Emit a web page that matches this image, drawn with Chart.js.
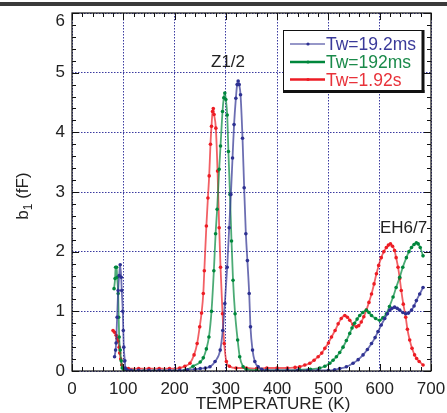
<!DOCTYPE html>
<html>
<head>
<meta charset="utf-8">
<script src="https://cdn.jsdelivr.net/npm/chart.js@4.4.0/dist/chart.umd.min.js"></script>
<style>
  body { margin: 0; background: #fff; }
  canvas { display: block; }
</style>
</head>
<body>
<canvas id="c" width="447" height="413"></canvas>
<script>
const FONT = "'Liberation Sans', Arial, Helvetica, sans-serif";

const seriesLabels = ['Tw=19.2ms', 'Tw=192ms', 'Tw=1.92s'];
const lineColors = ['rgba(46,49,146,0.7)', 'rgba(0,135,60,0.7)', 'rgba(237,28,36,0.7)'];
const pointColors = ['#2e3192', '#00873c', '#ed1c24'];
const textColors = ['#3a3a9a', '#1a8a4a', '#e8323a'];

const xTicks = [0, 100, 200, 300, 400, 500, 600, 700];
const yTicks = [0, 1, 2, 3, 4, 5, 6];

// Tw = 19.2 ms
const blueT = [83, 85, 86, 88, 90, 92, 94, 96, 97, 99, 100, 101, 103, 104, 107, 115, 130, 150, 170, 190, 210, 225, 240, 250, 260, 269, 279, 289, 294, 298, 302.6, 306.5, 309.8, 313, 316, 319.5, 322, 324, 326, 328.6, 332.5, 335.7, 339, 342, 345.5, 348, 352, 356.5, 363, 370, 380, 400, 420, 440, 460, 480, 500, 512, 522, 535, 548, 558, 567.5, 576, 584, 591, 596.7, 603, 609.8, 615, 619.5, 624, 629, 634, 639, 645, 650.7, 656, 662, 667, 671.5, 678, 684.5];
const blueB = [0.24, 0.35, 0.47, 0.9, 1.35, 1.6, 1.78, 1.57, 1.35, 1.0, 0.68, 0.4, 0.17, 0.05, 0.02, 0.01, 0.01, 0.01, 0.01, 0.01, 0.01, 0.02, 0.03, 0.04, 0.05, 0.07, 0.16, 0.35, 0.68, 1.13, 1.74, 2.4, 2.96, 3.57, 4.13, 4.57, 4.8, 4.86, 4.8, 4.63, 3.9, 3.07, 2.3, 1.85, 1.3, 0.74, 0.35, 0.16, 0.07, 0.03, 0.01, 0.01, 0.01, 0.01, 0.01, 0.01, 0.01, 0.02, 0.04, 0.07, 0.13, 0.19, 0.27, 0.36, 0.46, 0.56, 0.66, 0.77, 0.88, 0.96, 1.02, 1.05, 1.07, 1.05, 1.02, 0.98, 0.96, 0.97, 1.02, 1.09, 1.18, 1.29, 1.4];

// Tw = 192 ms
const greenT = [82, 84, 85, 87, 88, 90, 91, 92, 94, 96, 98, 102, 120, 140, 160, 180, 200, 220, 236, 250, 256, 262, 267, 272, 276.6, 280, 283, 287, 289.6, 293.5, 296, 298, 300, 302.6, 305, 308, 311, 314, 318, 323, 327, 333.7, 340, 360, 380, 400, 420, 444, 465, 483, 493, 502.6, 509, 515.6, 522, 528.5, 535, 541.6, 546, 551, 556, 561, 567, 574, 579, 584, 592, 600, 606, 613, 619, 626, 632, 639, 645, 652, 657, 662, 667, 671.5, 675, 679, 684.5];
const greenB = [1.38, 1.55, 1.74, 1.74, 1.57, 1.3, 0.9, 0.57, 0.35, 0.17, 0.05, 0.01, 0.0, 0.0, 0.0, 0.0, 0.0, 0.01, 0.08, 0.15, 0.22, 0.37, 0.57, 1.0, 1.68, 2.3, 2.71, 3.38, 3.77, 4.35, 4.58, 4.66, 4.55, 4.29, 3.68, 2.96, 2.18, 1.52, 0.96, 0.52, 0.24, 0.07, 0.03, 0.01, 0.01, 0.01, 0.01, 0.02, 0.03, 0.05, 0.08, 0.13, 0.18, 0.24, 0.31, 0.4, 0.51, 0.63, 0.72, 0.8, 0.87, 0.93, 0.98, 1.02, 0.98, 0.93, 0.88, 0.85, 0.89, 0.96, 1.08, 1.24, 1.4, 1.57, 1.74, 1.9, 2.0, 2.07, 2.12, 2.15, 2.13, 2.07, 1.93];

// Tw = 1.92 s
const redT = [80, 83, 86, 88, 90, 92, 93, 95, 97, 100, 110, 130, 150, 170, 190, 210, 220, 230, 238, 244, 249, 252.6, 256, 258, 262, 265, 267.5, 270, 272, 274, 275.5, 277, 280.5, 283.8, 287, 289.6, 293.5, 296.8, 301, 307, 320, 340, 360, 380, 400, 420, 435, 444, 454, 463.7, 472, 480, 487, 493, 500, 506, 513, 519, 525, 532, 537, 541.6, 548, 554.6, 559, 564, 569, 574, 579, 584, 589, 593.6, 598, 603, 608, 613, 617, 621, 625, 629, 632, 635.7, 639, 642, 646, 650.7, 654, 658.5, 663, 668, 672, 677, 684.5];
const redB = [0.68, 0.65, 0.6, 0.55, 0.5, 0.4, 0.3, 0.2, 0.1, 0.05, 0.04, 0.04, 0.04, 0.04, 0.04, 0.05, 0.08, 0.13, 0.27, 0.46, 0.74, 0.97, 1.3, 1.68, 2.43, 2.9, 3.27, 3.8, 4.1, 4.35, 4.4, 4.3, 4.07, 3.35, 2.4, 1.74, 0.96, 0.46, 0.16, 0.08, 0.05, 0.05, 0.04, 0.05, 0.05, 0.05, 0.06, 0.07, 0.1, 0.13, 0.18, 0.24, 0.3, 0.38, 0.47, 0.57, 0.68, 0.79, 0.88, 0.93, 0.9, 0.85, 0.78, 0.74, 0.76, 0.82, 0.91, 1.02, 1.15, 1.29, 1.46, 1.63, 1.77, 1.9, 2.0, 2.07, 2.11, 2.13, 2.09, 2.02, 1.9, 1.74, 1.55, 1.35, 1.12, 0.9, 0.7, 0.52, 0.38, 0.27, 0.21, 0.16, 0.1];

const seriesT = [blueT, greenT, redT];
const seriesB = [blueB, greenB, redB];

const datasets = seriesLabels.map((label, i) => ({
  label,
  data: seriesT[i].map((t, k) => ({ x: t, y: seriesB[i][k] })),
  borderColor: lineColors[i],
  backgroundColor: pointColors[i],
  pointBackgroundColor: pointColors[i],
  pointBorderWidth: 0,
  pointRadius: 1.8,
  borderWidth: 1.8,
  cubicInterpolationMode: 'monotone'
}));

const decorations = {
  id: 'decorations',
  beforeDraw(chart) {
    const ctx = chart.ctx;
    ctx.save();
    ctx.fillStyle = '#fff';
    ctx.fillRect(0, 0, chart.width, chart.height);
    ctx.fillStyle = '#3a3a3a';
    ctx.fillRect(0, 2, chart.width, 4);
    ctx.restore();
  },
  afterDraw(chart) {
    const ctx = chart.ctx;
    const a = chart.chartArea;
    const xs = chart.scales.x, ys = chart.scales.y;
    ctx.save();
    // frame
    ctx.strokeStyle = '#111';
    ctx.lineWidth = 1.2;
    ctx.strokeRect(a.left, a.top, a.right - a.left, a.bottom - a.top);
    // inner ticks
    ctx.lineWidth = 1;
    ctx.beginPath();
    for (let v = 0; v <= 700; v += 20) {
      const px = Math.round(xs.getPixelForValue(v)) + 0.5;
      const len = v % 100 === 0 ? 7 : 4;
      ctx.moveTo(px, a.bottom); ctx.lineTo(px, a.bottom - len);
      ctx.moveTo(px, a.top); ctx.lineTo(px, a.top + len);
    }
    for (let k = 0; k <= 30; k++) {
      const py = Math.round(ys.getPixelForValue(k * 0.2)) + 0.5;
      const len = k % 5 === 0 ? 7 : 4;
      ctx.moveTo(a.left, py); ctx.lineTo(a.left + len, py);
      ctx.moveTo(a.right, py); ctx.lineTo(a.right - len, py);
    }
    ctx.stroke();

    // top y label sits a bit below its tick in the original
    ctx.fillStyle = '#222';
    ctx.font = '17px ' + FONT;
    ctx.textAlign = 'right';
    ctx.textBaseline = 'middle';
    ctx.fillText(String(yTicks[yTicks.length - 1]), a.left - 7, ys.getPixelForValue(6) + 8);

    // legend box
    ctx.fillStyle = '#fff';
    ctx.fillRect(283, 30, 141, 62);
    ctx.strokeStyle = '#111';
    ctx.lineWidth = 1;
    ctx.strokeRect(283.5, 30.5, 139, 61);
    ctx.fillStyle = '#111';
    ctx.fillRect(421.5, 30, 3, 63);
    ctx.fillRect(283, 90, 141.5, 3);
    const rows = [44, 62, 79.5];
    ctx.font = '17.5px ' + FONT;
    ctx.textBaseline = 'alphabetic';
    ctx.textAlign = 'left';
    seriesLabels.forEach((lab, i) => {
      const y = rows[i];
      ctx.strokeStyle = pointColors[i];
      ctx.lineWidth = i === 0 ? 1.2 : 2.5;
      ctx.beginPath(); ctx.moveTo(290, y); ctx.lineTo(325, y); ctx.stroke();
      ctx.fillStyle = pointColors[i];
      ctx.beginPath(); ctx.arc(308, y, 1.6, 0, Math.PI * 2); ctx.fill();
      ctx.fillStyle = textColors[i];
      ctx.fillText(lab, 326, y + 6.3);
    });

    // annotations
    ctx.fillStyle = '#222';
    ctx.font = '17px ' + FONT;
    ctx.textAlign = 'center';
    ctx.fillText('Z1/2', 228, 67);
    ctx.textAlign = 'left';
    ctx.fillText('EH6/7', 380, 233);

    // axis titles
    ctx.textAlign = 'center';
    ctx.fillText('TEMPERATURE (K)', 273, 409);
    ctx.translate(28, 196);
    ctx.rotate(-Math.PI / 2);
    ctx.textAlign = 'left';
    ctx.font = '17px ' + FONT;
    const w1 = ctx.measureText('b').width;
    ctx.font = '12px ' + FONT;
    const w2 = ctx.measureText('1').width;
    ctx.font = '17px ' + FONT;
    const w3 = ctx.measureText(' (fF)').width;
    let x0 = -(w1 + w2 + w3) / 2;
    ctx.fillText('b', x0, 0);
    ctx.font = '12px ' + FONT;
    ctx.fillText('1', x0 + w1, 4);
    ctx.font = '17px ' + FONT;
    ctx.fillText(' (fF)', x0 + w1 + w2, 0);
    ctx.restore();
  }
};

new Chart(document.getElementById('c').getContext('2d'), {
  type: 'line',
  data: { datasets },
  options: {
    responsive: false,
    animation: false,
    layout: { padding: { top: 13, right: 16, left: 0, bottom: 0 } },
    plugins: { legend: { display: false }, tooltip: { enabled: false } },
    scales: {
      x: {
        type: 'linear',
        min: 0, max: 700,
        afterBuildTicks: s => { s.ticks = xTicks.map(v => ({ value: v })); },
        afterFit: s => { s.height = 42; s.paddingLeft = 0; s.paddingRight = 0; },
        grid: { color: '#3a3aa0', lineWidth: 1, drawTicks: false },
        border: { display: false, dash: [1.5, 1.5] },
        ticks: { color: '#222', padding: 8, maxRotation: 0, font: { family: FONT, size: 17 } }
      },
      y: {
        type: 'linear',
        min: 0, max: 6,
        afterBuildTicks: s => { s.ticks = yTicks.map(v => ({ value: v })); },
        afterFit: s => { s.width = 72; s.paddingTop = 0; s.paddingBottom = 0; },
        grid: { color: '#3a3aa0', lineWidth: 1, drawTicks: false },
        border: { display: false, dash: [1.5, 1.5] },
        ticks: {
          color: '#222', padding: 7, font: { family: FONT, size: 17 },
          callback: v => (v === 6 ? '' : v)
        }
      }
    }
  },
  plugins: [decorations]
});
</script>
</body>
</html>
